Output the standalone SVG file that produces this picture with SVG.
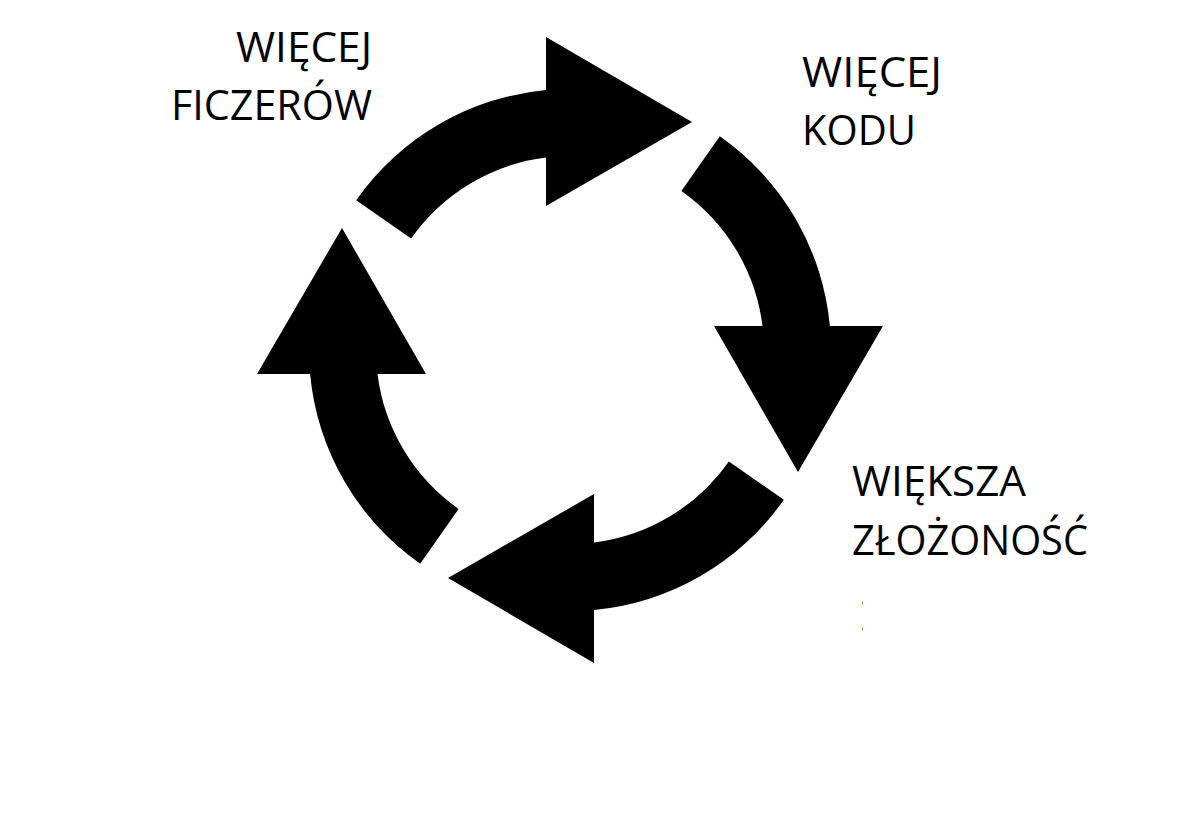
<svg xmlns="http://www.w3.org/2000/svg" width="1202" height="835" viewBox="0 0 1202 835">
<style>
.arrow{fill:#000;stroke:none}
.lbl{font-family:"Open Sans","Noto Sans","Liberation Sans",sans-serif;font-size:42px;fill:#000}
</style>
<defs>
<path id="arr" class="arrow" d="M356.2,200.2 A261,261 0 0 1 546,90.1 L546,37 L692,122 L546,206 L546,157.5 A194,194 0 0 0 411.1,238.6 Z"/>
</defs>
<rect width="1202" height="835" fill="#fff"/>
<g id="connectors">
<use id="arrow-top" href="#arr"/>
<use id="arrow-right" href="#arr" transform="rotate(90 570 350)"/>
<use id="arrow-bottom" href="#arr" transform="rotate(180 570 350)"/>
<use id="arrow-left" href="#arr" transform="rotate(270 570 350)"/>
</g>
<g id="node-ficzerow">
<text class="lbl" x="236" y="62" textLength="136" lengthAdjust="spacingAndGlyphs">WIĘCEJ</text>
<text class="lbl" x="171" y="120" textLength="201" lengthAdjust="spacingAndGlyphs">FICZERÓW</text>
</g>
<g id="node-kodu">
<text class="lbl" x="802" y="87" textLength="140" lengthAdjust="spacingAndGlyphs">WIĘCEJ</text>
<text class="lbl" x="802" y="145" textLength="114" lengthAdjust="spacingAndGlyphs">KODU</text>
</g>
<g id="node-zlozonosc">
<text class="lbl" x="852" y="496" textLength="174" lengthAdjust="spacingAndGlyphs">WIĘKSZA</text>
<text class="lbl" x="852" y="555" textLength="236" lengthAdjust="spacingAndGlyphs">ZŁOŻONOŚĆ</text>
</g>
<rect x="862" y="601" width="1" height="4" fill="#d9b860"/>
<rect x="862" y="627" width="1" height="4" fill="#d9b860"/>
</svg>
